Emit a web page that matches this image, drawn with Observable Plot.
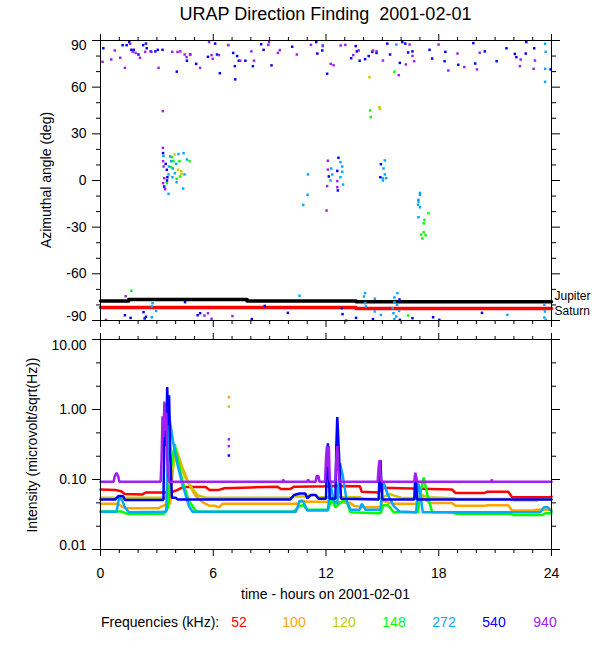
<!DOCTYPE html>
<html><head><meta charset="utf-8">
<script src="https://cdn.jsdelivr.net/npm/d3@7"></script>
<script src="https://cdn.jsdelivr.net/npm/@observablehq/plot@0.6"></script>
<style>
body{margin:0;background:#fff;}
#wrap{position:relative;width:600px;height:650px;font-family:"Liberation Sans",Arial,Helvetica,sans-serif;color:#000;overflow:hidden;background:#fff;}
.abs{position:absolute;white-space:nowrap;line-height:1;}
.rot{transform:translate(-50%,-50%) rotate(-90deg);}
</style></head><body>
<div id="wrap">
<div id="topPanel" class="abs" style="left:0;top:0;"></div>
<div id="botPanel" class="abs" style="left:0;top:324px;"></div>
<div class="abs" style="left:0;width:651px;top:5px;text-align:center;font-size:18px;">URAP Direction Finding&nbsp; 2001-02-01</div>
<div class="abs rot" style="left:46px;top:180px;font-size:14px;">Azimuthal angle (deg)</div>
<div class="abs rot" style="left:32px;top:445px;font-size:14px;">Intensity (microvolt/sqrt(Hz))</div>
<div class="abs" style="left:0;width:651px;top:587px;text-align:center;font-size:14px;">time - hours on 2001-02-01</div>
<div id="legend"></div>
</div>
<script>
// ---------- categories ----------
const freqLabels = ["52", "100", "120", "148", "272", "540", "940"];
const freqColors = ["#ff0000", "#ffa500", "#c8c800", "#00ff00", "#00a8ff", "#0000ff", "#a020f0"];
const hourTicks = [0, 6, 12, 18, 24];
const hourMinor = [1,2,3,4,5,7,8,9,10,11,13,14,15,16,17,19,20,21,22,23];
const azTicks = [90, 60, 30, 0, -30, -60, -90];
const azMinor = [80,70,50,40,20,10,-10,-20,-40,-50,-70,-80];
const intTicks = [10, 1, 0.1, 0.01];
const intMinor = [4.64, 2.15, 0.464, 0.215, 0.0464, 0.0215];

// ---------- planet directions [hour, deg] ----------
const jupiter = [[0,-77.4],[1.5,-76.5],[7.8,-77.4],[13.6,-78],[24,-78]];
const saturn = [[0,-81.6],[13.6,-82.3],[24,-82.3]];

// ---------- direction finding points [hour, deg] ----------
const az120 = [[6.77,87.2],[14.31,66.4],[14.84,47.1],[14.88,46],[3.94,16.7],[4.12,6.9],[4.3,6],[4.31,4.3]];
const az148 = [[15.64,69.9],[14.35,45],[14.38,40.7],[3.8,15],[3.88,12.4],[4.2,12.4],[4.74,12.4],[3.76,8.6],[4.23,2.6],[4.05,1.1],[3.53,-1.7],
  [17.45,-21],[17.24,-25.3],[17.2,-27.5],[17.2,-33.3],[17.06,-34.8],[17.3,-35.2],[17.13,-37.3],[1.64,-70.9],[16.37,-86.8]];
const az272 = [[11.83,87],[15.74,87.4],[23.66,87.9],[23.69,82.7],[23.66,71.8],[23.66,63.4],
  [3.35,15.7],[3.62,3.9],[3.62,-8.6],[3.71,15.5],[4.15,17],[4.42,17.6],[3.76,12.4],[4.6,13.5],[4.03,10.7],[3.64,9],[3.85,7.7],[3.96,4.7],[4.47,3.9],[3.83,2.1],[4.05,-1.1],[4.4,-5.2],
  [12.77,11.8],[12.86,9],[12.28,7.7],[12.86,5.6],[12.33,3.9],[12.77,2.1],[12.24,0],[12.91,-2.6],[11.04,3.9],[11.02,-9.2],[10.79,-15.7],
  [15.13,12.9],[15.06,7.7],[15.13,3.9],[15.03,1.5],[15.2,1.5],[15.03,0],
  [17.0,-8],[17.0,-9.2],[16.92,-12.4],[16.92,-13.5],[16.9,-15.5],[17.0,-17.2],[16.92,-23.6],
  [2.77,-78.9],[2.73,-81],[2.96,-83.8],[2.73,-87.9],[10.59,-74.1],[14.08,-72.4],[14.02,-74.6],[14.6,-76],[14.08,-78.9],[14.12,-81],[14.6,-84.2],[14.92,-86.4],
  [15.8,-72.4],[15.64,-75.2],[15.64,-78.2],[15.78,-79.9],[15.55,-82.1],[15.89,-83.8],[15.59,-85.3],[15.74,-87.4],[15.64,-89.1],[21.65,-86.4],[23.62,-79.9],[23.65,-84.2],[23.62,-88.1],[23.7,-89.6]];
const az540 = [[0.15,85],[1.18,87],[1.39,87],[1.53,89],[1.64,84],[1.77,84],[2.02,81],[2.27,87],[2.42,88],[2.46,85],[2.67,83],[2.92,83],[3.05,84],[3.3,84],[4.06,70],[4.6,77],[4.77,81],[5.09,75],[5.72,79.5],[6.1,88],[6.2,81],[6.35,69],[7.06,82],[7.15,73.5],[7.17,65],[7.27,80],[7.36,77],[7.71,77],[8.11,73.5],[8.55,87.6],[8.68,84],[9.1,74],[10.2,86],[11.48,89],[11.54,81.6],[11.8,83.6],[12.06,68.6],[13.34,78.6],[13.58,86.4],[13.64,83],[13.79,77],[14.08,78],[14.27,80],[14.46,82.7],[14.69,82],[15.26,88],[15.41,81],[15.93,75.6],[16.06,89],[16.22,88],[16.37,82.3],[16.6,83],[17.51,84],[17.65,78.4],[18.35,82.7],[18.31,76.7],[19.04,74.4],[19.84,88.3],[19.94,75.2],[20.45,83],[21.08,76.7],[21.6,85],[22.13,79.3],[22.05,81.4],[22.63,81.6],[22.66,89],[23.08,85],[23.95,71.4],
  [3.33,17.6],[3.47,10.7],[3.53,6.9],[3.56,2.1],[3.54,0],[3.39,-3.9],[12.66,14.6],[12.6,6.2],[12.15,2.6],[12.63,-6.4],[14.92,10.5],[14.89,2.1],
  [1.3,-86.6],[1.6,-88.3],[2.35,-88.7],[2.29,-84.6],[2.42,-87.6],[4.5,-78.2],[5.3,-85.3],[5.17,-86.6],[8.05,-89.1],[8.74,-80.6],[9.97,-85.1],[12.84,-82.1],[12.88,-85.9],[13.6,-88.3],[14.5,-89.1],[15.91,-76.5],[15.93,-89.6],[16.6,-88.5],[17.7,-87.9],[18.03,-89.6],[20.3,-85.1]];
const az940 = [[0.11,76.3],[0.57,77.8],[0.76,83.6],[1.05,78.9],[1.3,72.4],[1.58,87.9],[1.72,82.7],[1.87,82],[2.1,78.9],[2.38,82.7],[2.71,82.7],[3.09,72.4],[3.32,44.6],[3.82,82.7],[4.1,82.7],[4.25,83],[4.48,81],[4.58,79.3],[4.77,81],[5.3,72.4],[5.78,89],[5.91,80.6],[5.97,78.2],[6.3,80.6],[6.81,87],[7.44,77],[8.03,83],[8.17,77],[8.93,87.2],[8.97,89],[9.44,82],[9.54,83.8],[10.45,81],[11.2,87.2],[11.83,86.4],[12.25,75],[12.4,74.1],[12.78,86.8],[13.03,87.2],[13.45,80.6],[13.74,83.6],[14.5,83.6],[14.69,83.1],[15.03,77.1],[15.87,67.7],[16.25,74.6],[16.45,87.4],[16.6,80.1],[16.69,76.7],[17.99,87.4],[18.51,70.7],[19.0,81.6],[19.36,72.9],[20.03,71.4],[20.18,82.1],[22.32,73.5],[22.36,77.8],[23.05,71.8],[23.12,77.1],
  [3.32,21],[3.33,12.4],[3.36,9],[3.39,1.5],[3.33,-1.7],[3.44,-5.6],[12.1,12.7],[12.1,7],[12.6,-0.4],[12.06,-3.6],[12.6,-4.3],[12.03,-19.3],
  [1.34,-74.4],[0.29,-89.6],[5.72,-85.3],[5.53,-86.8],[5.91,-88.9],[7.02,-87.2],[13.07,-90]];

// ---------- intensity series [hour, microvolt/sqrt(Hz)] ----------
const int52 = [[0,0.072],[0.8,0.071],[1.1,0.068],[1.3,0.062],[2.2,0.061],[2.4,0.065],[3.4,0.065],[3.8,0.066],[4.1,0.071],[4.4,0.078],[5.6,0.078],[5.8,0.071],[6.3,0.071],[6.6,0.075],[8.0,0.077],[9.4,0.079],[9.6,0.073],[10.1,0.073],[10.3,0.079],[12.2,0.08],[12.4,0.081],[13.8,0.08],[13.9,0.067],[14.8,0.065],[15.0,0.076],[16.0,0.075],[18.7,0.072],[18.9,0.064],[20.4,0.064],[20.6,0.067],[21.7,0.067],[21.9,0.056],[23.9,0.056],[24,0.057]];
const int100 = [[0,0.045],[0.9,0.045],[1.3,0.039],[3.1,0.039],[3.3,0.042],[3.7,0.045],[3.9,0.2],[4.05,0.26],[4.35,0.15],[4.7,0.087],[5.05,0.059],[5.4,0.048],[5.8,0.042],[6.1,0.042],[6.3,0.04],[6.5,0.045],[10.5,0.045],[10.7,0.05],[11.0,0.048],[12.2,0.048],[13.3,0.046],[13.5,0.042],[14.0,0.04],[14.9,0.04],[15.0,0.05],[15.3,0.047],[15.6,0.045],[16.8,0.045],[17.1,0.055],[17.3,0.052],[17.5,0.046],[18.7,0.046],[18.9,0.042],[20.4,0.042],[20.6,0.043],[21.7,0.043],[21.9,0.036],[23.0,0.036],[23.2,0.037],[24,0.037]];
const int120 = [[0,0.055],[3.5,0.055],[3.8,0.12],[4.0,0.24],[4.5,0.108],[4.88,0.074],[5.2,0.059],[5.6,0.055],[10.1,0.055],[10.3,0.057],[10.8,0.057],[11.2,0.06],[11.4,0.06],[11.6,0.056],[13.8,0.056],[14.0,0.053],[14.8,0.053],[15.4,0.062],[15.7,0.058],[16.0,0.055],[16.9,0.054],[17.1,0.06],[17.4,0.056],[18.8,0.054],[19.0,0.0525],[21.8,0.0525],[22.0,0.05],[23.2,0.05],[23.4,0.052],[24,0.052]];
const int148 = [[0,0.035],[1.1,0.035],[1.4,0.0325],[3.4,0.0325],[3.6,0.04],[3.75,0.15],[3.95,0.32],[4.35,0.096],[4.7,0.05],[5.05,0.036],[5.3,0.0345],[10.2,0.0345],[10.4,0.037],[10.6,0.042],[10.8,0.043],[11.0,0.037],[12.1,0.037],[12.3,0.052],[12.5,0.04],[12.9,0.05],[13.1,0.048],[13.3,0.034],[14.9,0.033],[15.05,0.043],[15.3,0.043],[15.6,0.034],[16.9,0.034],[17.05,0.07],[17.2,0.107],[17.4,0.06],[17.65,0.034],[18.7,0.034],[18.9,0.0325],[21.8,0.0325],[22.0,0.031],[23.5,0.031],[23.7,0.033],[24,0.033]];
const int272 = [[0,0.0345],[0.85,0.0345],[1.0,0.056],[1.15,0.05],[1.3,0.04],[1.5,0.034],[3.3,0.0345],[3.5,0.035],[3.6,0.3],[3.65,0.82],[3.85,0.36],[4.08,0.17],[4.35,0.087],[4.7,0.042],[4.9,0.0345],[10.4,0.0345],[10.6,0.05],[10.8,0.048],[11.0,0.036],[12.1,0.036],[12.24,0.088],[12.4,0.05],[12.6,0.045],[12.75,0.17],[12.9,0.11],[13.1,0.05],[13.3,0.037],[13.8,0.037],[13.9,0.045],[14.1,0.037],[14.9,0.037],[15.05,0.092],[15.3,0.06],[15.6,0.042],[15.9,0.035],[16.8,0.034],[16.9,0.088],[17.0,0.07],[17.15,0.034],[23.4,0.034],[23.6,0.04],[23.8,0.04],[24,0.035]];
const int540 = [[0,0.052],[0.8,0.052],[0.95,0.058],[1.2,0.058],[1.3,0.051],[3.35,0.051],[3.4,0.4],[3.45,1.2],[3.5,0.3],[3.55,2.1],[3.6,0.6],[3.65,1.6],[3.72,0.2],[3.8,0.055],[4.0,0.055],[4.1,0.052],[10.1,0.052],[10.3,0.06],[10.6,0.063],[10.9,0.063],[11.0,0.054],[11.2,0.06],[11.45,0.06],[11.6,0.053],[12.0,0.053],[12.05,0.2],[12.1,0.33],[12.15,0.12],[12.2,0.053],[12.5,0.053],[12.55,0.3],[12.6,0.78],[12.65,0.4],[12.7,0.2],[12.8,0.053],[14.8,0.052],[14.85,0.12],[14.9,0.19],[14.95,0.08],[15.0,0.052],[16.7,0.052],[16.75,0.12],[16.8,0.08],[16.85,0.052],[24,0.052]];
const int940 = [[0,0.093],[0.7,0.093],[0.75,0.11],[0.85,0.125],[0.95,0.11],[1.0,0.093],[3.2,0.093],[3.25,0.2],[3.3,0.8],[3.35,0.4],[3.4,1.3],[3.45,0.5],[3.5,0.9],[3.55,0.2],[3.6,0.11],[3.65,0.093],[9.7,0.093],[9.72,0.1],[9.76,0.093],[11.0,0.093],[11.05,0.1],[11.1,0.093],[11.45,0.093],[11.5,0.112],[11.6,0.112],[11.65,0.093],[11.95,0.093],[12.0,0.2],[12.05,0.3],[12.1,0.15],[12.15,0.3],[12.2,0.1],[12.25,0.093],[12.5,0.093],[12.55,0.2],[12.6,0.3],[12.65,0.15],[12.7,0.093],[14.75,0.093],[14.8,0.15],[14.85,0.19],[14.9,0.12],[14.95,0.093],[16.7,0.093],[16.75,0.125],[16.8,0.11],[16.85,0.093],[20.8,0.093],[20.82,0.1],[20.86,0.093],[24,0.093]];
// isolated samples near 6.8 h
const isoHour = [6.83, 6.83, 6.83, 6.83, 6.83];
const isoValue = [1.5, 1.1, 0.375, 0.30, 0.22];
const isoFreq = ["100", "120", "940", "940", "540"];

// ---------- build ----------
const colorOf = Object.fromEntries(freqLabels.map((f, i) => [f, freqColors[i]]));
const azSeries = [["120", az120], ["148", az148], ["272", az272], ["540", az540], ["940", az940]];
const intSeries = [["52", int52], ["100", int100], ["120", int120], ["148", int148], ["272", int272], ["540", int540], ["940", int940]];
const iso = isoHour.map((h, i) => ({h, v: isoValue[i], f: isoFreq[i]}));

const fontStyle = {fontFamily: '"Liberation Sans", Arial, Helvetica, sans-serif', fontSize: "14px", background: "transparent", overflow: "visible", color: "black"};
const blank = () => "";

function frameTicks(xMajorLabels) {
  return [
    Plot.axisX(hourTicks, {anchor: "top", tickSize: 7, tickFormat: blank, label: null}),
    Plot.axisX(hourMinor, {anchor: "top", tickSize: 4, tickFormat: blank, label: null}),
    Plot.axisX(hourTicks, {anchor: "bottom", tickSize: 7, tickPadding: 12, tickFormat: xMajorLabels ? (d => String(d)) : blank, label: null, fontSize: 14}),
    Plot.axisX(hourMinor, {anchor: "bottom", tickSize: 4, tickFormat: blank, label: null}),
    Plot.frame({stroke: "black"})
  ];
}

const topPlot = Plot.plot({
  width: 600, height: 335,
  marginTop: 40, marginBottom: 15, marginLeft: 100, marginRight: 49,
  x: {domain: [0, 24]},
  y: {domain: [-90, 90]},
  style: fontStyle,
  marks: [
    Plot.line(jupiter, {x: d => d[0], y: d => d[1], curve: "step-after", stroke: "black", strokeWidth: 3.5}),
    Plot.line(saturn, {x: d => d[0], y: d => d[1], curve: "step-after", stroke: "#ff0000", strokeWidth: 3.5}),
    ...azSeries.map(([f, arr]) => Plot.dot(arr, {x: d => d[0], y: d => d[1], fill: colorOf[f], stroke: null, r: 1.4, symbol: "square"})),
    Plot.axisY(azTicks, {anchor: "left", tickSize: 8, tickFormat: blank, label: null}),
    Plot.axisY(azMinor, {anchor: "left", tickSize: 4, tickFormat: blank, label: null}),
    Plot.axisY(azTicks, {anchor: "right", tickSize: 8, tickFormat: blank, label: null}),
    Plot.axisY(azMinor, {anchor: "right", tickSize: 4, tickFormat: blank, label: null}),
    Plot.text(azTicks.slice(1, 6), {y: d => d, text: d => String(d), frameAnchor: "left", dx: -14, textAnchor: "end", lineAnchor: "middle", fontSize: 14}),
    Plot.text([90], {y: d => d, text: d => String(d), frameAnchor: "left", dx: -14, dy: 5, textAnchor: "end", lineAnchor: "middle", fontSize: 14}),
    Plot.text([-90], {y: d => d, text: d => String(d), frameAnchor: "left", dx: -14, dy: -4, textAnchor: "end", lineAnchor: "middle", fontSize: 14}),
    Plot.text([jupiter[jupiter.length - 1]], {x: d => d[0], y: d => d[1], text: ["Jupiter"], dx: 3, dy: -6, textAnchor: "start", lineAnchor: "middle", fontSize: 12}),
    Plot.text([saturn[saturn.length - 1]], {x: d => d[0], y: d => d[1], text: ["Saturn"], dx: 3, dy: 3, textAnchor: "start", lineAnchor: "middle", fontSize: 12}),
    ...frameTicks(false)
  ]
});
document.getElementById("topPanel").appendChild(topPlot);

const fmt = d => d.toFixed(2);
const botPlot = Plot.plot({
  width: 600, height: 260,
  marginTop: 15, marginBottom: 35, marginLeft: 100, marginRight: 49,
  x: {domain: [0, 24]},
  y: {type: "log", domain: [0.01, 10]},
  style: fontStyle,
  marks: [
    ...intSeries.map(([f, arr]) => Plot.line(arr, {x: d => d[0], y: d => d[1], stroke: colorOf[f], strokeWidth: 2.5, strokeLinejoin: "miter"})),
    Plot.dot(iso, {x: "h", y: "v", fill: d => colorOf[d.f], stroke: null, r: 1.4, symbol: "square"}),
    Plot.axisY(intTicks, {anchor: "left", tickSize: 8, tickFormat: blank, label: null}),
    Plot.axisY(intMinor, {anchor: "left", tickSize: 4, tickFormat: blank, label: null}),
    Plot.axisY(intTicks, {anchor: "right", tickSize: 8, tickFormat: blank, label: null}),
    Plot.axisY(intMinor, {anchor: "right", tickSize: 4, tickFormat: blank, label: null}),
    Plot.text([1, 0.1], {y: d => d, text: fmt, frameAnchor: "left", dx: -14, textAnchor: "end", lineAnchor: "middle", fontSize: 14}),
    Plot.text([10], {y: d => d, text: fmt, frameAnchor: "left", dx: -14, dy: 6, textAnchor: "end", lineAnchor: "middle", fontSize: 14}),
    Plot.text([0.01], {y: d => d, text: fmt, frameAnchor: "left", dx: -14, dy: -4, textAnchor: "end", lineAnchor: "middle", fontSize: 14}),
    ...frameTicks(true)
  ]
});
document.getElementById("botPanel").appendChild(botPlot);

// legend
const legend = document.getElementById("legend");
const lab = document.createElement("div");
lab.className = "abs";
lab.style.cssText = "left:101px;top:615px;font-size:14px;";
lab.textContent = "Frequencies (kHz):";
legend.appendChild(lab);
const legendX = [239, 294, 344, 394, 444, 494, 545];
freqLabels.forEach((f, i) => {
  const s = document.createElement("div");
  s.className = "abs";
  s.style.cssText = `left:${legendX[i]}px;top:615px;font-size:14px;color:${freqColors[i]};transform:translateX(-50%);`;
  s.textContent = f;
  legend.appendChild(s);
});
</script>
</body></html>
